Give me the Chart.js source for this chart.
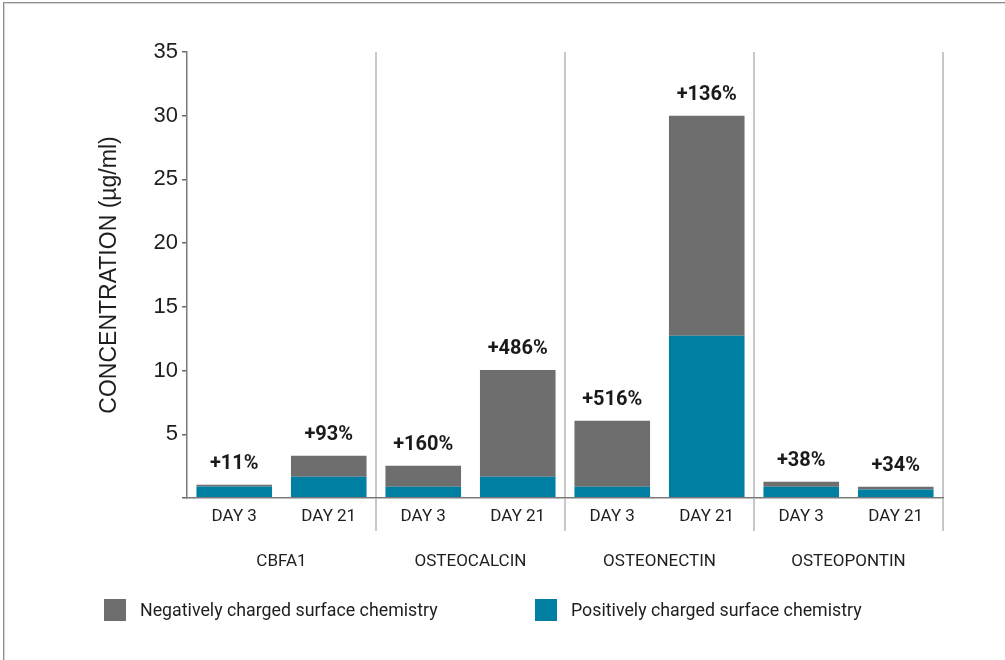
<!DOCTYPE html>
<html>
<head>
<meta charset="utf-8">
<script src="https://cdn.jsdelivr.net/npm/chart.js@4"></script>
<style>
  html, body { margin: 0; padding: 0; background: #fff; overflow: hidden; }
  #wrap { position: relative; width: 1005px; height: 660px; }
  #frame { position: absolute; left: 3px; top: 2px; width: 1100px; height: 800px; border: 1px solid #8c8c8c; box-shadow: inset 1px 1px 0 #d8d8d8; }
  canvas { position: absolute; left: 0; top: 0; }
  .leg { position: absolute; top: 598px; height: 23px; font-family: Roboto, sans-serif; font-size: 17.8px; color: #1e1e1e; display: flex; align-items: center; }
  .sw { width: 22px; height: 22px; margin-right: 14px; }
</style>
</head>
<body>
<div id="wrap">
  <div id="frame"></div>
  <canvas id="c" width="1005" height="660"></canvas>
  <div class="leg" style="left:104px"><div class="sw" style="background:#6e6e6e"></div><span id="l1"></span></div>
  <div class="leg" style="left:535px"><div class="sw" style="background:#007fa3"></div><span id="l2"></span></div>
</div>
<script>
const dayLabels = ['DAY 3', 'DAY 21', 'DAY 3', 'DAY 21', 'DAY 3', 'DAY 21', 'DAY 3', 'DAY 21'];
const groupLabels = ['CBFA1', 'OSTEOCALCIN', 'OSTEONECTIN', 'OSTEOPONTIN'];
const positiveValues = [0.9, 1.67, 0.89, 1.67, 0.89, 12.74, 0.89, 0.67];
const negativeExtra = [0.14, 1.65, 1.65, 8.38, 5.18, 17.26, 0.39, 0.22];
const changeLabels = ['+11%', '+93%', '+160%', '+486%', '+516%', '+136%', '+38%', '+34%'];
const seriesNames = ['Negatively charged surface chemistry', 'Positively charged surface chemistry'];
const yTicks = [0, 5, 10, 15, 20, 25, 30, 35];

document.getElementById('l1').textContent = seriesNames[0];
document.getElementById('l2').textContent = seriesNames[1];

const labelPlugin = {
  id: 'changeLabels',
  afterDatasetsDraw(chart) {
    const ctx = chart.ctx;
    const meta = chart.getDatasetMeta(1);
    ctx.save();
    ctx.font = 'bold 20px Roboto, sans-serif';
    ctx.fillStyle = '#1a1a1a';
    ctx.textAlign = 'center';
    ctx.textBaseline = 'middle';
    meta.data.forEach((bar, i) => {
      ctx.fillText(changeLabels[i], bar.x, bar.y - 21);
    });
    ctx.restore();
  }
};

new Chart(document.getElementById('c'), {
  type: 'bar',
  data: {
    labels: dayLabels,
    datasets: [
      { label: seriesNames[1], data: positiveValues, backgroundColor: '#007fa3', stack: 's' },
      { label: seriesNames[0], data: negativeExtra, backgroundColor: '#6e6e6e', stack: 's' }
    ]
  },
  options: {
    responsive: false,
    animation: false,
    events: [],
    layout: { padding: { left: 0, right: 62, top: 52, bottom: 82 } },
    datasets: { bar: { categoryPercentage: 1.0, barPercentage: 0.8 } },
    plugins: { legend: { display: false }, tooltip: { enabled: false } },
    scales: {
      x: {
        stacked: true,
        position: 'bottom',
        afterFit(s) { s.height = 40; },
        grid: {
          display: true,
          offset: true,
          drawOnChartArea: true,
          drawTicks: true,
          tickLength: 33,
          lineWidth: 2,
          color(ctx) {
            const i = ctx.index;
            if (i === undefined) return '#c8c8c8';
            return (i > 0 && i % 2 === 0) ? '#c8c8c8' : 'rgba(0,0,0,0)';
          }
        },
        border: { display: true, color: '#7a7a7a', width: 1.5, z: 1 },
        ticks: { padding: -24, color: '#1e1e1e', font: { family: 'Roboto, sans-serif', size: 17 }, maxRotation: 0, autoSkip: false }
      },
      x2: {
        type: 'category',
        labels: groupLabels,
        position: 'bottom',
        afterFit(s) { s.height = 40; },
        grid: { display: false },
        border: { display: false },
        ticks: { padding: 6, color: '#1e1e1e', font: { family: 'Roboto, sans-serif', size: 17 }, maxRotation: 0, autoSkip: false }
      },
      y: {
        stacked: true,
        min: 0,
        max: 35,
        afterFit(s) { s.width = 187; },
        afterBuildTicks(s) { s.ticks = yTicks.map(v => ({ value: v })); },
        grid: { display: true, drawOnChartArea: false, drawTicks: true, tickLength: 5, color: '#6a6a6a', lineWidth: 1.5 },
        border: { display: true, color: '#7a7a7a', width: 1.5 },
        ticks: {
          padding: 4,
          color: '#1e1e1e',
          font: { family: '"Liberation Sans", Arial, sans-serif', size: 22 },
          callback: v => (v === 0 ? '' : String(v))
        },
        title: {
          display: true,
          text: 'CONCENTRATION (µg/ml)',
          color: '#1e1e1e',
          font: { family: '"Liberation Sans", Arial, sans-serif', size: 23 },
          padding: { top: 96, bottom: 0 }
        }
      }
    }
  },
  plugins: [labelPlugin]
});
</script>
</body>
</html>
